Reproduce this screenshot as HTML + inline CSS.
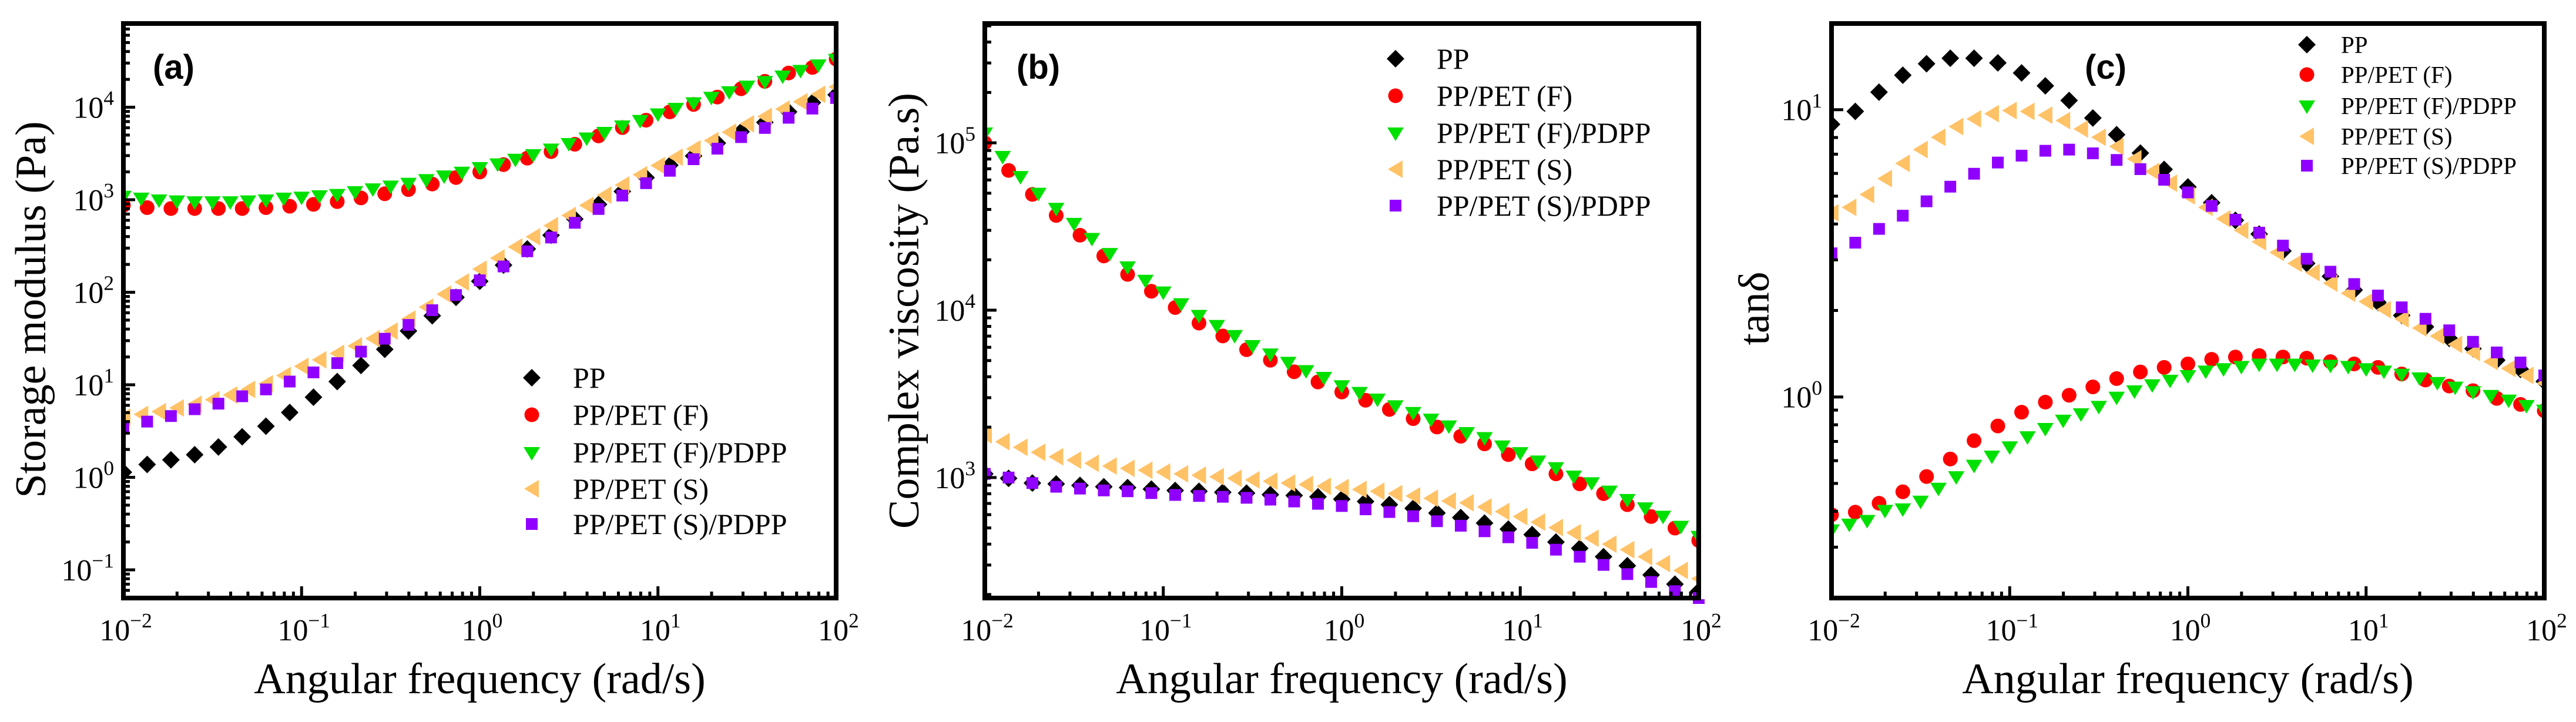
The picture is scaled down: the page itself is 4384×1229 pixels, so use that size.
<!DOCTYPE html>
<html><head><meta charset="utf-8"><style>
html,body{margin:0;padding:0;background:#fff;}
svg{display:block;}
text{font-family:"Liberation Serif",serif;fill:#000;}
.lab{font-family:"Liberation Sans",sans-serif;font-weight:bold;}
</style></head><body>
<svg id="fig" xmlns="http://www.w3.org/2000/svg" width="4384" height="1229" viewBox="0 0 4384 1229"></svg>
<script>
// ---- data (log10 of measured quantity), frequency grids in log10(rad/s)
// 31-point series: log f = -2 + i*4/30 ; 41-point series: log f = -2 + i*0.1
const seriesNames = ["PP","PP/PET (F)","PP/PET (F)/PDPP","PP/PET (S)","PP/PET (S)/PDPP"];

// Panel (a): storage modulus, log10(Pa)
const logG_PP = [0.055,0.139,0.189,0.244,0.328,0.438,0.552,0.701,0.866,1.035,1.209,1.383,1.582,1.746,1.945,2.119,2.294,2.468,2.617,2.791,2.950,3.090,3.239,3.373,3.473,3.612,3.736,3.836,3.950,4.050,4.134];
const logG_F = [2.94,2.915,2.905,2.905,2.905,2.905,2.915,2.93,2.95,2.98,3.02,3.065,3.11,3.17,3.24,3.30,3.38,3.45,3.52,3.60,3.69,3.78,3.86,3.95,4.03,4.11,4.20,4.28,4.37,4.43,4.52];
const logG_FP = [3.04,3.02,3.00,2.99,2.98,2.98,2.98,2.99,3.00,3.02,3.03,3.045,3.06,3.09,3.12,3.15,3.18,3.22,3.26,3.30,3.35,3.39,3.44,3.49,3.55,3.61,3.67,3.73,3.80,3.86,3.93,3.99,4.05,4.11,4.17,4.23,4.28,4.34,4.40,4.46,4.52];
const logG_S = [0.65,0.68,0.71,0.75,0.79,0.84,0.89,0.95,1.01,1.10,1.20,1.27,1.34,1.42,1.50,1.58,1.71,1.84,1.98,2.11,2.25,2.37,2.49,2.60,2.72,2.83,2.94,3.05,3.16,3.27,3.37,3.46,3.55,3.64,3.73,3.82,3.90,3.98,4.06,4.14,4.22];
const logG_SP = [0.527,0.602,0.662,0.736,0.796,0.876,0.950,1.035,1.134,1.234,1.358,1.498,1.647,1.806,1.970,2.129,2.279,2.443,2.592,2.751,2.900,3.045,3.179,3.313,3.438,3.552,3.677,3.776,3.886,3.985,4.100];

// Panel (b): complex viscosity, log10(Pa.s)
const logEta_PP = [3.022,2.995,2.967,2.962,2.953,2.945,2.940,2.931,2.923,2.918,2.912,2.907,2.898,2.893,2.885,2.871,2.857,2.838,2.816,2.788,2.761,2.728,2.692,2.659,2.615,2.577,2.527,2.473,2.418,2.363,2.321];
const logEta_F = [5.0,4.835,4.692,4.566,4.448,4.324,4.214,4.113,4.016,3.923,3.846,3.764,3.701,3.632,3.571,3.511,3.462,3.407,3.352,3.302,3.247,3.201,3.137,3.082,3.022,2.962,2.904,2.838,2.767,2.698,2.624];
const logEta_FP = [5.06,4.92,4.80,4.70,4.61,4.52,4.43,4.34,4.26,4.18,4.11,4.04,3.97,3.91,3.85,3.79,3.74,3.69,3.64,3.60,3.55,3.51,3.47,3.43,3.39,3.35,3.31,3.27,3.24,3.19,3.15,3.10,3.06,3.01,2.97,2.92,2.87,2.82,2.77,2.71,2.65];
const logEta_S = [3.255,3.214,3.181,3.151,3.124,3.104,3.085,3.069,3.055,3.044,3.033,3.022,3.014,3.005,2.995,2.986,2.978,2.967,2.959,2.948,2.940,2.929,2.918,2.904,2.890,2.876,2.860,2.849,2.824,2.797,2.767,2.734,2.701,2.670,2.637,2.602,2.569,2.527,2.486,2.445,2.396];
const logEta_SP = [3.022,3.0,2.967,2.945,2.934,2.923,2.918,2.907,2.896,2.890,2.885,2.879,2.868,2.857,2.843,2.830,2.810,2.794,2.769,2.739,2.712,2.679,2.643,2.610,2.569,2.527,2.478,2.423,2.376,2.321,2.280];

// Panel (c): tan delta, log10
const logTan_PP = [0.949,0.994,1.061,1.120,1.160,1.179,1.179,1.163,1.128,1.083,1.032,0.971,0.913,0.849,0.792,0.731,0.676,0.615,0.567,0.508,0.465,0.420,0.372,0.329,0.284,0.244,0.204,0.168,0.128,0.096,0.054];
const logTan_F = [-0.410,-0.401,-0.370,-0.330,-0.277,-0.216,-0.152,-0.101,-0.053,-0.018,0.006,0.035,0.064,0.087,0.103,0.115,0.131,0.139,0.144,0.139,0.135,0.123,0.115,0.103,0.080,0.059,0.038,0.022,-0.005,-0.026,-0.048];
const logTan_FP = [-0.462,-0.442,-0.429,-0.394,-0.389,-0.362,-0.317,-0.277,-0.237,-0.205,-0.173,-0.138,-0.109,-0.080,-0.058,-0.032,0.0,0.022,0.043,0.059,0.075,0.091,0.099,0.107,0.115,0.115,0.115,0.112,0.111,0.107,0.099,0.091,0.080,0.067,0.051,0.035,0.019,0.006,-0.010,-0.029,-0.045];
const logTan_S = [0.641,0.660,0.705,0.760,0.813,0.861,0.904,0.941,0.968,0.986,0.997,0.994,0.981,0.962,0.933,0.904,0.872,0.829,0.785,0.744,0.700,0.660,0.620,0.580,0.540,0.503,0.465,0.433,0.396,0.361,0.332,0.304,0.272,0.240,0.212,0.183,0.155,0.123,0.099,0.075,0.048];
const logTan_SP = [0.5,0.537,0.585,0.631,0.681,0.732,0.777,0.816,0.840,0.857,0.861,0.848,0.825,0.793,0.756,0.712,0.665,0.617,0.572,0.527,0.481,0.436,0.393,0.353,0.312,0.272,0.232,0.192,0.155,0.120,0.075];

const xTickExps = [-2,-1,0,1,2];

const NS = "http://www.w3.org/2000/svg";
const svg = document.getElementById('fig');
function mk(tag, attrs, parent){
  const e = document.createElementNS(NS, tag);
  for (const k in attrs) e.setAttribute(k, attrs[k]);
  (parent||svg).appendChild(e);
  return e;
}
const COLORS = ["#000000","#ff0000","#00e000","#ffc266","#9000ff"];
const SHAPES = ["diamond","circle","tridown","trileft","square"];

function marker(g, shape, cx, cy, color){
  let e;
  if (shape==="diamond") e = mk('polygon',{points:`${cx},${cy-15} ${cx+15},${cy} ${cx},${cy+15} ${cx-15},${cy}`,fill:color},g);
  else if (shape==="circle") e = mk('circle',{cx:cx,cy:cy,r:12.5,fill:color},g);
  else if (shape==="tridown") e = mk('polygon',{points:`${cx-14},${cy-9} ${cx+14},${cy-9} ${cx},${cy+14}`,fill:color},g);
  else if (shape==="trileft") e = mk('polygon',{points:`${cx+12},${cy-15} ${cx+12},${cy+15} ${cx-13},${cy}`,fill:color},g);
  else e = mk('rect',{x:cx-10,y:cy-10,width:20,height:20,fill:color},g);
  return e;
}

function powLabel(g, x, y, exp, anchor, fs){
  const t = mk('text',{x:x,y:y,'font-size':fs,'text-anchor':anchor,'font-family':'Liberation Serif, serif'},g);
  t.appendChild(document.createTextNode('10'));
  const s = document.createElementNS(NS,'tspan');
  s.setAttribute('dy', -fs*0.42);
  s.setAttribute('font-size', fs*0.68);
  s.textContent = exp<0 ? '\u2212'+(-exp) : String(exp);
  t.appendChild(s);
  return t;
}

function panel(cfg){
  const g = mk('g',{});
  
  
  const L=cfg.L, R=cfg.R, T=40, B=1018;
  const xs = lf => L + (lf+2)/4*(R-L);
  const ys = lv => B - (lv-cfg.ymin)/(cfg.ymax-cfg.ymin)*(B-T);
  cfg.series.forEach((arr, si) => {
    const sg = mk('g',{},g);
    
    
    const n = arr.length;
    arr.forEach((v,i) => {
      const lf = -2 + i*4/(n-1);
      const y = ys(v);
      if (y < T-5 || y > B+5) return;
      const m = marker(sg, SHAPES[si], xs(lf), y, COLORS[si]);
      
      
    });
  });
  mk('rect',{x:L-40,y:0,width:36,height:1229,fill:'#fff'},g);
  mk('rect',{x:R+4,y:0,width:40,height:1020,fill:'#fff'},g);
  const tk = mk('g',{stroke:'#000','stroke-width':5},g);
  
  
  for (let d=-2; d<=2; d++){
    const x = xs(d);
    mk('line',{x1:x,y1:B,x2:x,y2:B-20},tk);
    if (d<2) for (let k=2;k<=9;k++){ const xm=xs(d+Math.log10(k)); mk('line',{x1:xm,y1:B,x2:xm,y2:B-11},tk); }
  }
  for (let d=Math.floor(cfg.ymin); d<=Math.ceil(cfg.ymax); d++){
    for (let k=1;k<=9;k++){
      const lv = d+Math.log10(k);
      if (lv<cfg.ymin||lv>cfg.ymax) continue;
      const y=ys(lv);
      mk('line',{x1:L,y1:y,x2:L+(k===1?20:11),y2:y},tk);
    }
  }
  const fr = mk('rect',{x:L,y:T,width:R-L,height:B-T,fill:'none',stroke:'#000','stroke-width':8},g);
  
  
  xTickExps.forEach(e => {
    const t = powLabel(g, xs(e)+4, 1090, e, 'middle', 52);
    
    
  });
  cfg.yTicks.forEach(e => {
    const t = powLabel(g, L-16, ys(e)+18, e, 'end', 52);
    
    
  });
  const xt = mk('text',{x:(L+R)/2,y:1180,'font-size':74,'text-anchor':'middle','font-family':'Liberation Serif, serif'},g);
  xt.textContent = 'Angular frequency (rad/s)';
  
  
  const yt = mk('text',{x:0,y:0,'font-size':74,'text-anchor':'middle','font-family':'Liberation Serif, serif',transform:`translate(${cfg.ytx},${cfg.yty}) rotate(-90)`},g);
  yt.textContent = cfg.ytitle;
  
  
  const pl = mk('text',{x:cfg.labX,y:134,'font-size':58,'class':'lab'},g);
  pl.textContent = cfg.label;
  
  
  const lg = mk('g',{},g);
  
  
  seriesNames.forEach((nm,i)=>{
    const ey = cfg.legY[i];
    const eg = mk('g',{},lg);
    
    
    marker(eg, SHAPES[i], cfg.legMX, ey, COLORS[i]);
    const t = mk('text',{x:cfg.legTX,y:ey+cfg.legFS*0.34,'font-size':cfg.legFS,'font-family':'Liberation Serif, serif'},eg);
    t.textContent = nm;
  });
}

panel({name:'panel-a-storage-modulus',L:210,R:1423,ymin:-1.305,ymax:4.905,
  series:[logG_PP,logG_F,logG_FP,logG_S,logG_SP], yTicks:[-1,0,1,2,3,4],
  ytitle:'Storage modulus (Pa)', ytx:77, yty:527, label:'(a)', labX:260,
  legY:[643,706,770,832,892], legMX:905, legTX:975, legFS:50});
panel({name:'panel-b-complex-viscosity',L:1676,R:2891,ymin:2.28,ymax:5.713,
  series:[logEta_PP,logEta_F,logEta_FP,logEta_S,logEta_SP], yTicks:[3,4,5],
  ytitle:'Complex viscosity (Pa.s)', ytx:1563, yty:529, label:'(b)', labX:1730,
  legY:[100,163,226,288,350], legMX:2375, legTX:2445, legFS:50});
panel({name:'panel-c-tan-delta',L:3117,R:4330,ymin:-0.700,ymax:1.300,
  series:[logTan_PP,logTan_F,logTan_FP,logTan_S,logTan_SP], yTicks:[0,1],
  ytitle:'tanδ', ytx:3010, yty:525, label:'(c)', labX:3548,
  legY:[76,127,180,232,282], legMX:3926, legTX:3984, legFS:41});
</script>
</body></html>
